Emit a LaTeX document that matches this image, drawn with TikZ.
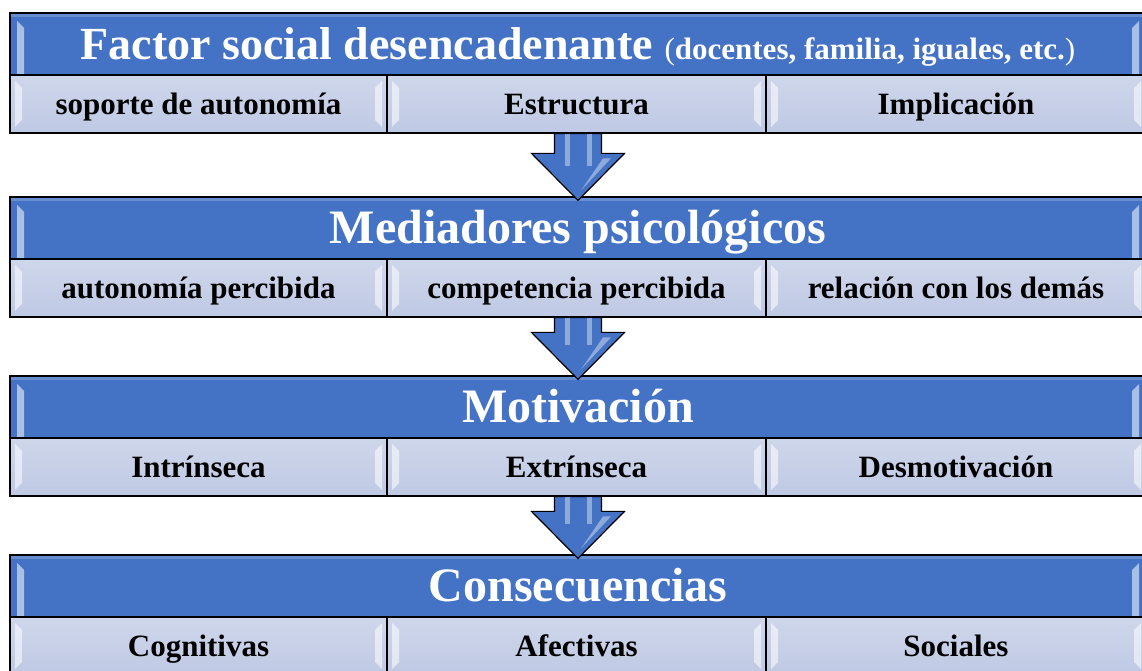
\documentclass[tikz,border=0pt]{standalone}
\usepackage{fontspec}
\setmainfont{Liberation Serif}
\usetikzlibrary{calc}

\definecolor{hdrblue}{RGB}{68,114,196}
\definecolor{cellblue}{RGB}{191,201,228}
\newcommand{\hdrfont}{\fontsize{48}{56}\selectfont\bfseries}
\newcommand{\subfont}{\fontsize{31}{36}\selectfont\bfseries}

\begin{document}
\begin{tikzpicture}[x=1pt, y=1pt,
    hdr/.style={draw=black, line width=1.2pt, fill=hdrblue, text=white,
        minimum width=1136pt, minimum height=62pt, font=\hdrfont,
        text height=32pt, text depth=0pt,
        path picture={
            \coordinate (nw) at (path picture bounding box.north west);
            \coordinate (ne) at (path picture bounding box.north east);
            \fill[white, opacity=.2] (nw) rectangle ($(ne)+(0,-4)$);
            \fill[bevel] ($(nw)+(7,-8)$) -- ($(nw)+(14,-15)$) -- ($(nw)+(14,-61)$) -- ($(nw)+(7,-61)$) -- cycle;
            \fill[bevel] ($(ne)+(-7,-8)$) -- ($(ne)+(-14,-15)$) -- ($(ne)+(-14,-61)$) -- ($(ne)+(-7,-61)$) -- cycle;
        }},
    cell/.style={draw=black, line width=1.2pt, top color=cellblue!75!white, bottom color=cellblue,
        minimum height=58pt, font=\subfont, text height=20.5pt, text depth=0pt,
        path picture={
            \coordinate (nw) at (path picture bounding box.north west);
            \coordinate (ne) at (path picture bounding box.north east);
            \fill[bevel] ($(nw)+(5,-6)$) -- ($(nw)+(12,-13)$) -- ($(nw)+(12,-45)$) -- ($(nw)+(5,-52)$) -- cycle;
            \fill[bevel] ($(ne)+(-5,-6)$) -- ($(ne)+(-12,-13)$) -- ($(ne)+(-12,-45)$) -- ($(ne)+(-5,-52)$) -- cycle;
        }},
    bevel/.style={fill=white, opacity=.55},
    bigarrow/.style={draw=black, line width=1.2pt, line join=miter, fill=hdrblue},
    sheen/.style={fill=white, opacity=.4}
]
    \useasboundingbox (0,0) rectangle (1142,671);
    \clip (0,0) rectangle (1142,671);

    % --- Factor social ---
    \begin{scope}[yshift=658pt]
        \node[hdr] (h1) at (578,-31) {\fontsize{46}{52}\selectfont Factor social desencadenante {\fontsize{31}{36}\selectfont\mdseries(}{\fontsize{31}{36}\selectfont docentes, familia, iguales, etc.}{\fontsize{31}{36}\selectfont\mdseries)}};
        \node[cell, minimum width=377pt] (s1a) at (198.5,-91) {soporte de autonomía};
        \node[cell, minimum width=379pt] (s1b) at (576.5,-91) {Estructura};
        \node[cell, minimum width=380pt] (s1c) at (956,-91) {Implicación};
    \end{scope}

    % --- Mediadores ---
    \begin{scope}[yshift=474pt]
        \node[hdr] (h2) at (578,-31) {Mediadores psicológicos};
        \node[cell, minimum width=377pt] (s2a) at (198.5,-91) {autonomía percibida};
        \node[cell, minimum width=379pt] (s2b) at (576.5,-91) {competencia percibida};
        \node[cell, minimum width=380pt] (s2c) at (956,-91) {relación con los demás};
    \end{scope}

    % --- Motivacion ---
    \begin{scope}[yshift=295pt]
        \node[hdr] (h3) at (578,-31) {Motivación};
        \node[cell, minimum width=377pt] (s3a) at (198.5,-91) {Intrínseca};
        \node[cell, minimum width=379pt] (s3b) at (576.5,-91) {Extrínseca};
        \node[cell, minimum width=380pt] (s3c) at (956,-91) {Desmotivación};
    \end{scope}

    % --- Consecuencias ---
    \begin{scope}[yshift=116pt]
        \node[hdr] (h4) at (578,-31) {Consecuencias};
        \node[cell, minimum width=377pt] (s4a) at (198.5,-91) {Cognitivas};
        \node[cell, minimum width=379pt] (s4b) at (576.5,-91) {Afectivas};
        \node[cell, minimum width=380pt] (s4c) at (956,-91) {Sociales};
    \end{scope}

    % --- flechas ---
    \foreach \s/\t in {s1b/h2, s2b/h3, s3b/h4} {
        \coordinate (top) at (\t |- \s.south);
        \coordinate (tip) at ($(\t.north)+(0,-4)$);
        \draw[bigarrow] ($(top)+(-23.5,0)$) |- ($(tip)+(-46.5,47)$) -- (tip)
            -- ($(tip)+(46.5,47)$) -| ($(top)+(23.5,0)$) -- cycle;
        \fill[sheen] ($(top)+(-13,0)$) rectangle ($(tip)+(-8,34)$);
        \fill[sheen] ($(top)+(9,0)$) rectangle ($(tip)+(14,34)$);
        \fill[sheen] ($(tip)+(3,10)$) -- ($(tip)+(33,42)$) -- ($(tip)+(25,42)$) -- cycle;
    }
\end{tikzpicture}
\end{document}
